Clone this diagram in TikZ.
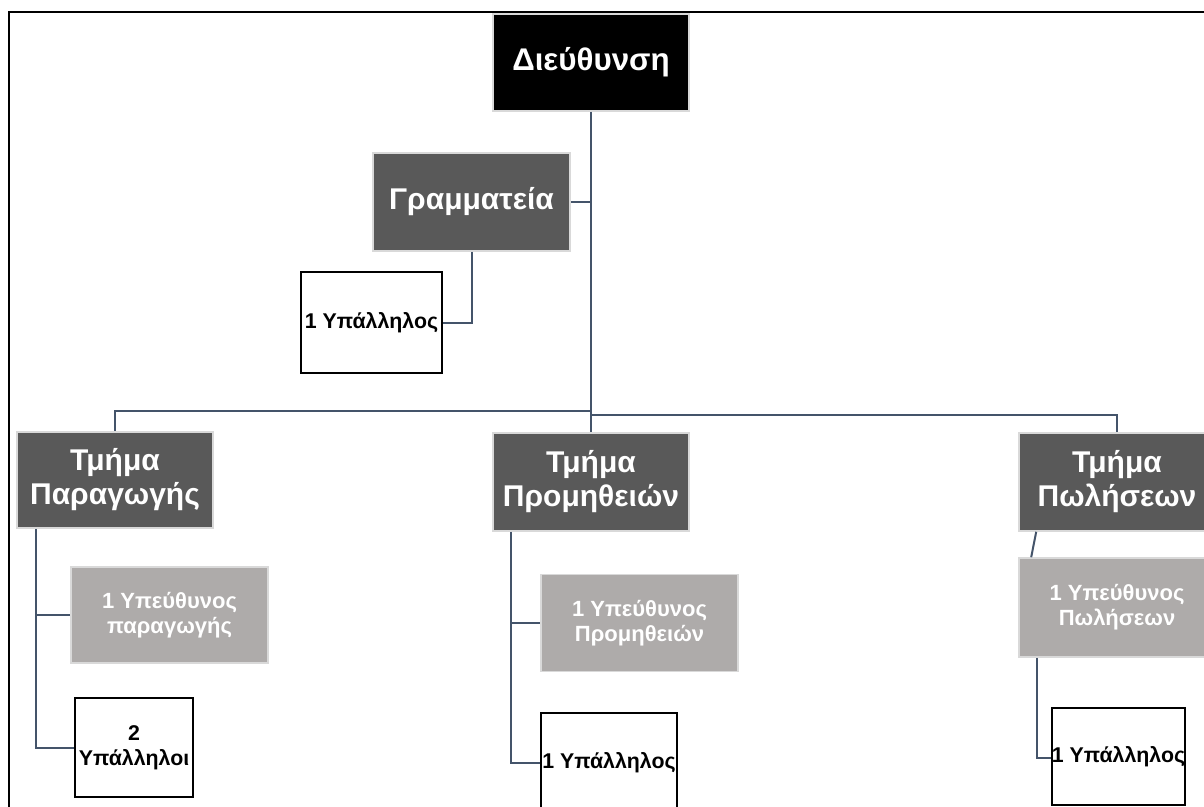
\documentclass[tikz,border=0pt]{standalone}
\usepackage{fontspec}
\setmainfont{Liberation Sans}
\usetikzlibrary{calc}
\definecolor{darkfill}{HTML}{595959}
\definecolor{lightfill}{HTML}{AEABAA}
\definecolor{edgegray}{HTML}{D9D9D9}
\definecolor{linkcol}{HTML}{44546A}
\tikzset{
  headbox/.style={draw=edgegray, line width=1.2pt, fill=black, text=white,
    font=\bfseries\fontsize{23.5}{27}\selectfont, align=center, inner sep=0pt},
  deptbox/.style={draw=edgegray, line width=1.2pt, fill=darkfill, text=white,
    font=\bfseries\fontsize{22.5}{25.5}\selectfont, align=center, inner sep=0pt},
  leadbox/.style={draw=edgegray, line width=1.2pt, fill=lightfill, text=white,
    font=\bfseries\fontsize{16.5}{19}\selectfont, align=center, inner sep=0pt},
  staffbox/.style={draw=black, line width=1.2pt, fill=white, text=black,
    font=\bfseries\fontsize{16}{19}\selectfont, align=center, inner sep=0pt},
  link/.style={draw=linkcol, line width=1.5pt},
  sz/.style 2 args={minimum width=#1*0.75pt, minimum height=#2*0.75pt}
}
\begin{document}
\begin{tikzpicture}[x=0.75pt, y=-0.75pt]
\useasboundingbox (0,0) rectangle (1204,807);
\fill[white] (0,0) rectangle (1204,807);
% frame lines
\draw[black, line width=1.6pt] (9,807) -- (9,12) -- (1210,12);

% boxes
\node[headbox, sz={196}{97}] (dir) at (591,62.5) {Διεύθυνση};
\node[deptbox, sz={197}{98}] (gram) at (471.5,202) {Γραμματεία};
\node[staffbox, sz={141}{101}] (gstaff) at (371.5,322.5) {1 Υπάλληλος};

\node[deptbox, sz={196}{96}] (par) at (115,480) {Τμήμα\\Παραγωγής};
\node[deptbox, sz={196}{98}] (prom) at (591,482) {Τμήμα\\Προμηθειών};
\node[deptbox, sz={196}{98}] (pol) at (1117,482) {Τμήμα\\Πωλήσεων};

\node[leadbox, sz={197}{96}] (parlead) at (169.5,615) {1 Υπεύθυνος\\παραγωγής};
\node[leadbox, sz={197}{97}] (promlead) at (639.5,623) {1 Υπεύθυνος\\Προμηθειών};
\node[leadbox, sz={196}{99}] (pollead) at (1117,607.5) {1 Υπεύθυνος\\Πωλήσεων};

\node[staffbox, sz={118}{99}] (parstaff) at (134,747.5) {2\\Υπάλληλοι};
\node[staffbox, sz={136}{100}] (promstaff) at (609,763) {1 Υπάλληλος};
\node[staffbox, sz={131}{97}] (polstaff) at (1118.5,756.5) {1 Υπάλληλος};

% connectors
\coordinate (busL) at ($(dir.south)+(0,299)$);
\coordinate (busR) at ($(dir.south)+(0,303)$);
\draw[link] (dir.south) -- (prom.north);
\draw[link] (gram.east) -- (gram.east -| dir.south);
\draw[link] ($(gram.south)+(0.5,0)$) |- (gstaff.east);
\draw[link] (busL) -| (par.north);
\draw[link] (busR) -| (pol.north);

\coordinate (parroot) at ($(par.south west)+(20,0)$);
\draw[link] (parroot) |- (parstaff.west);
\draw[link] (parroot |- parlead.west) -- (parlead.west);

\coordinate (promroot) at ($(prom.south west)+(19,0)$);
\draw[link] (promroot) |- (promstaff.west);
\draw[link] (promroot |- promlead.west) -- (promlead.west);

\draw[link] ($(pol.south west)+(18,0)$) -- ($(pollead.north west)+(13,0)$);
\draw[link] ($(pollead.south west)+(19,0)$) |- ($(polstaff.west)+(0,1.5)$);
\end{tikzpicture}
\end{document}
